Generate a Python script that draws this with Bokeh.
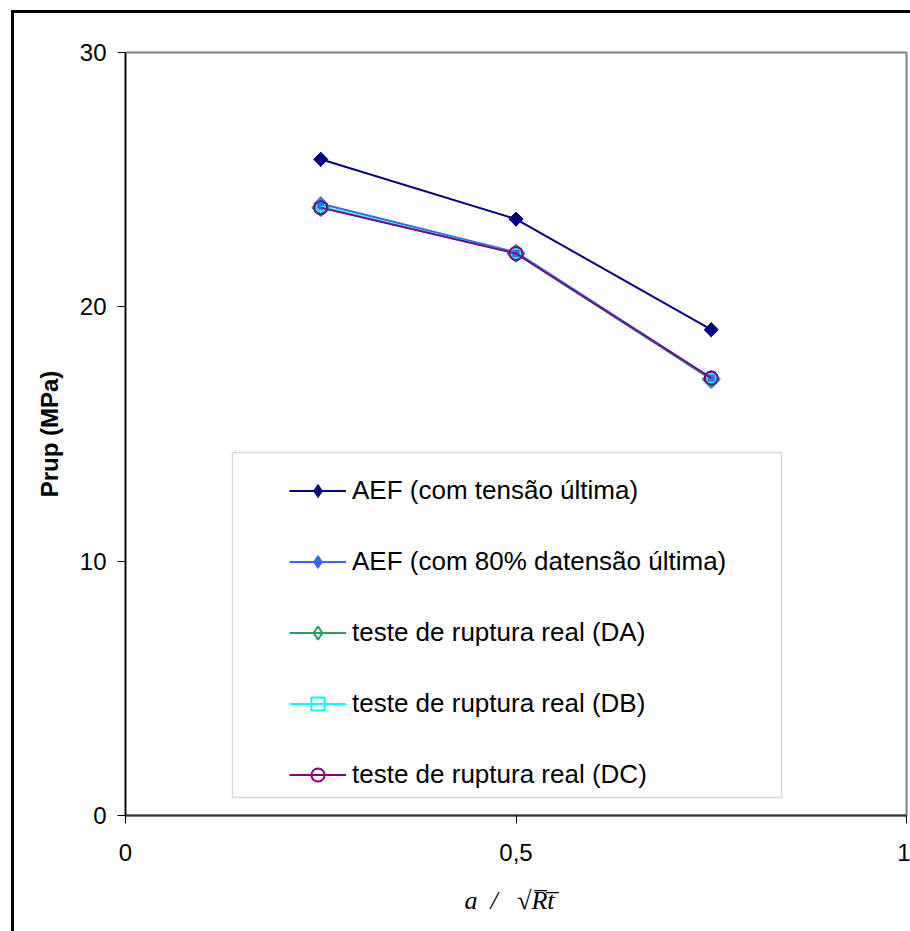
import math
from bokeh.plotting import figure
from bokeh.models import Range1d, FixedTicker, Legend, LegendItem, BoxAnnotation
from bokeh.embed import file_html
from bokeh.resources import INLINE

# ---- data ----
x_vals = [0.25, 0.5, 0.75]
aef_ult = [25.8, 23.45, 19.1]
aef_80 = [24.05, 22.15, 17.2]
real_da = [23.9, 22.1, 17.15]
real_db = [23.95, 22.1, 17.2]
real_dc = [23.9, 22.1, 17.2]
series_names = [
    "AEF (com tensão última)",
    "AEF (com 80% datensão última)",
    "teste de ruptura real (DA)",
    "teste de ruptura real (DB)",
    "teste de ruptura real (DC)",
]
x_ticks = [0, 0.5, 1]
x_tick_labels = ["0", "0,5", "1"]
y_ticks = [0, 10, 20, 30]
x_title = "a\u00a0\u00a0/\u00a0\u00a0\u00a0\u221aR\u0305t\u0305\u00a0\u00a0"
y_title = "Prup (MPa)"

# ---- layout ----
W, H = 910, 931
ML, MR, MT, MB = 125, 4, 52, 116
FW, FH = W - ML - MR, H - MT - MB
X0, X1, Y0, Y1 = 0, 1, 0, 30

p = figure(width=W, height=H, x_range=Range1d(X0, X1), y_range=Range1d(Y0, Y1),
           output_backend="svg", toolbar_location=None,
           min_border_left=ML, min_border_right=MR, min_border_top=MT, min_border_bottom=MB)
p.background_fill_color = "white"
p.border_fill_alpha = 0
p.styles = {
    "background": ("linear-gradient(black, black) 11px 10px / 3px calc(100% - 10px) no-repeat, "
                   "linear-gradient(black, black) 11px 10px / calc(100% - 11px) 3px no-repeat, "
                   "white"),
}
p.grid.visible = False
p.outline_line_color = "#808080"
p.outline_line_width = 2

for ax in (p.xaxis[0], p.yaxis[0]):
    ax.major_tick_out = 8
    ax.major_tick_in = 0
    ax.minor_tick_line_color = None
    ax.major_label_text_font = "Liberation Sans"
    ax.major_label_text_font_size = "24px"
    ax.major_label_text_color = "black"
    ax.major_tick_line_color = "black"
    ax.axis_label_text_color = "black"
p.xaxis.ticker = FixedTicker(ticks=x_ticks)
p.xaxis.major_label_overrides = dict(zip(x_ticks, x_tick_labels))
p.xaxis.major_label_standoff = 20
p.xaxis.axis_line_color = "#333333"
p.xaxis.axis_line_width = 2
p.xaxis.axis_label = x_title
p.xaxis.axis_label_text_font = "Liberation Serif"
p.xaxis.axis_label_text_font_style = "italic"
p.xaxis.axis_label_text_font_size = "26px"
p.xaxis.axis_label_standoff = 22

p.yaxis.ticker = FixedTicker(ticks=y_ticks)
p.yaxis.major_label_standoff = 11
p.yaxis.axis_line_color = "black"
p.yaxis.axis_line_width = 1.5
p.yaxis.axis_label = y_title
p.yaxis.axis_label_text_font = "Liberation Sans"
p.yaxis.axis_label_text_font_style = "bold"
p.yaxis.axis_label_text_font_size = "24px"
p.yaxis.axis_label_standoff = 14


def px(page_x):
    return X0 + (page_x - ML) / FW * (X1 - X0)


def py(page_y):
    return Y0 + (MT + FH - page_y) / FH * (Y1 - Y0)


# legend box
p.add_layout(BoxAnnotation(left=px(232), right=px(781), top=py(452), bottom=py(797),
                           fill_color="white", fill_alpha=1, line_color="#808080", line_width=1.5))

styles = [
    dict(color="#000080", marker="square", angle=math.pi / 4, size=10, fill=True, lw=1,
         legend_marker="diamond", legend_size=14),
    dict(color="#3366FF", marker="square", angle=math.pi / 4, size=10, fill=True, lw=1,
         legend_marker="diamond", legend_size=14),
    dict(color="#339966", marker="square", angle=math.pi / 4, size=12, fill=False, lw=2,
         legend_marker="diamond", legend_size=15),
    dict(color="#00FFFF", marker="square", angle=0, size=9, fill=False, lw=2,
         legend_marker=None, legend_size=None),
    dict(color="#800080", marker="circle", angle=0, size=13, fill=False, lw=2,
         legend_marker=None, legend_size=None),
]
series = [aef_ult, aef_80, real_da, real_db, real_dc]

# legend-shape markers (Excel diamonds), drawn first so the rotated squares cover them
proxies = []
for ys, st in zip(series, styles):
    if st["legend_marker"] is None:
        proxies.append(None)
        continue
    proxies.append(p.scatter(x_vals, ys, marker=st["legend_marker"], size=st["legend_size"],
                             line_color=st["color"], line_width=st["lw"],
                             fill_color=st["color"] if st["fill"] else None))

items = []
for name, ys, st, prox in zip(series_names, series, styles, proxies):
    r1 = p.line(x_vals, ys, line_color=st["color"], line_width=2)
    r2 = p.scatter(x_vals, ys, marker=st["marker"], angle=st["angle"], size=st["size"],
                   line_color=st["color"], line_width=st["lw"],
                   fill_color=st["color"] if st["fill"] else None)
    items.append(LegendItem(label=name, renderers=[r1, prox if prox is not None else r2]))

legend = Legend(items=items, location=(289 - ML, MT + FH - 791),
                padding=0, margin=0, spacing=38, glyph_width=57, glyph_height=33,
                label_height=20, label_standoff=6,
                label_text_font="Liberation Sans", label_text_font_size="26px",
                label_text_color="black",
                border_line_alpha=0, background_fill_alpha=0)
p.add_layout(legend)

open("out.html", "w").write(file_html(p, INLINE))
